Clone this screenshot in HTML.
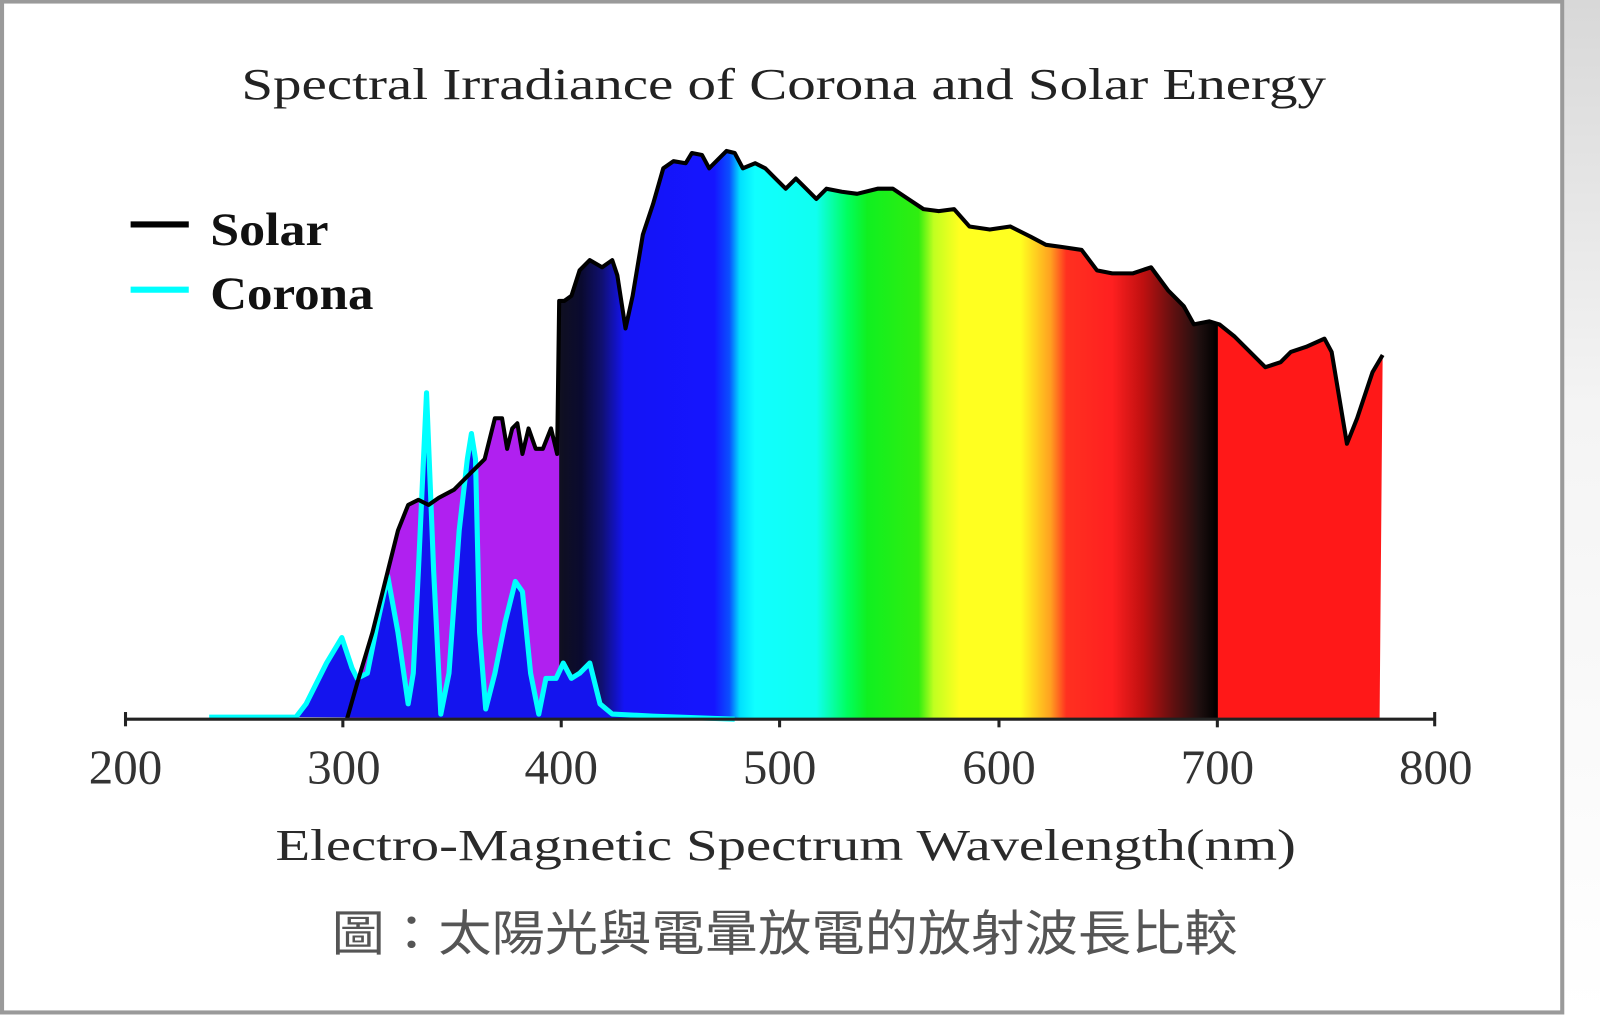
<!DOCTYPE html>
<html><head><meta charset="utf-8"><style>
html,body{margin:0;padding:0;background:#fff;width:1600px;height:1015px;overflow:hidden}
svg{display:block}
</style></head><body>
<svg width="1600" height="1015" viewBox="0 0 1568 995" preserveAspectRatio="none" xmlns="http://www.w3.org/2000/svg">
<defs>
<linearGradient id="spec" gradientUnits="userSpaceOnUse" x1="548" y1="0" x2="1192" y2="0">
<stop offset="0" stop-color="#101020"/>
<stop offset="0.034" stop-color="#0a0a30"/>
<stop offset="0.065" stop-color="#101070"/>
<stop offset="0.099" stop-color="#1414f5"/>
<stop offset="0.236" stop-color="#1515ff"/>
<stop offset="0.259" stop-color="#0a50ff"/>
<stop offset="0.275" stop-color="#00e0ff"/>
<stop offset="0.298" stop-color="#10ffff"/>
<stop offset="0.391" stop-color="#10fff0"/>
<stop offset="0.438" stop-color="#00ff60"/>
<stop offset="0.469" stop-color="#10f020"/>
<stop offset="0.547" stop-color="#30ee10"/>
<stop offset="0.570" stop-color="#c0ff20"/>
<stop offset="0.609" stop-color="#ffff20"/>
<stop offset="0.702" stop-color="#ffff20"/>
<stop offset="0.748" stop-color="#ffa020"/>
<stop offset="0.772" stop-color="#ff3020"/>
<stop offset="0.841" stop-color="#ff2020"/>
<stop offset="0.888" stop-color="#c01010"/>
<stop offset="0.935" stop-color="#601010"/>
<stop offset="0.973" stop-color="#201010"/>
<stop offset="1" stop-color="#000"/>
</linearGradient>
<linearGradient id="side" x1="0" y1="0" x2="0" y2="1">
<stop offset="0" stop-color="#d8d8d8"/><stop offset="0.4" stop-color="#f4f4f4"/><stop offset="1" stop-color="#fff"/>
</linearGradient>
<clipPath id="uv"><rect x="0" y="0" width="550" height="995"/></clipPath>
<clipPath id="vis"><rect x="548" y="0" width="644" height="995"/></clipPath>
<clipPath id="ir"><rect x="1192" y="0" width="400" height="995"/></clipPath>
<path id="solar" d="M340,705 L350,670 365,620 380,560 390,520 400,495 410,490 420,495 430,488 445,480 460,465 475,450 485,410 492,410 497,440 502,420 507,415 512,445 518,420 525,440 532,440 540,420 546,445 548,295 553,295 560,290 568,265 578,255 590,262 600,255 605,270 613,322 620,290 630,230 640,200 650,165 660,158 672,160 678,150 688,152 695,165 705,155 712,148 720,150 728,165 740,160 750,165 760,175 770,185 780,175 790,185 800,195 810,185 825,188 840,190 860,185 875,185 890,195 905,205 920,207 935,205 950,222 970,225 990,222 1010,232 1025,240 1040,242 1060,245 1075,265 1090,268 1110,268 1128,262 1145,285 1160,300 1170,318 1185,315 1195,318 1210,330 1225,345 1240,360 1255,355 1265,345 1280,340 1298,332 1305,345 1320,435 1330,410 1345,365 1355,348 L1352,705 Z"/>
</defs>
<rect x="1533" y="0" width="35" height="995" fill="url(#side)"/>
<rect x="2" y="1.5" width="1529" height="991" fill="#fff" stroke="#9a9a9a" stroke-width="4"/>

<text x="768" y="97" font-family="Liberation Serif, serif" font-size="44" fill="#222" text-anchor="middle" textLength="1063" lengthAdjust="spacingAndGlyphs">Spectral Irradiance of Corona and Solar Energy</text>

<line x1="128" y1="220" x2="185" y2="220" stroke="#000" stroke-width="6"/>
<line x1="128" y1="284" x2="185" y2="284" stroke="#00ffff" stroke-width="6"/>
<text x="206" y="240" font-family="Liberation Serif, serif" font-size="46" font-weight="bold" fill="#111" textLength="116" lengthAdjust="spacingAndGlyphs">Solar</text>
<text x="206" y="303" font-family="Liberation Serif, serif" font-size="46" font-weight="bold" fill="#111" textLength="160" lengthAdjust="spacingAndGlyphs">Corona</text>

<use href="#solar" fill="#b020f0" clip-path="url(#uv)"/>
<use href="#solar" fill="url(#spec)" clip-path="url(#vis)"/>
<use href="#solar" fill="#ff1818" clip-path="url(#ir)"/>

<path d="M290,703 L300,690 320,650 335,625 345,655 350,665 360,660 370,610 380,565 390,620 400,690 405,660 410,560 418,385 425,560 432,700 440,660 450,520 458,450 462,425 466,450 470,620 476,695 485,660 495,610 505,570 512,580 520,660 528,700 535,665 545,665 552,650 560,665 568,660 578,650 588,690 600,700 640,702 720,705 Z" fill="#1414ee"/>
<path d="M205,703 L290,703 300,690 320,650 335,625 345,655 350,665 360,660 370,610 380,565 390,620 400,690 405,660 410,560 418,385 425,560 432,700 440,660 450,520 458,450 462,425 466,450 470,620 476,695 485,660 495,610 505,570 512,580 520,660 528,700 535,665 545,665 552,650 560,665 568,660 578,650 588,690 600,700 640,702 720,705" fill="none" stroke="#00ffff" stroke-width="5" stroke-linejoin="round"/>

<path d="M340,705 L350,670 365,620 380,560 390,520 400,495 410,490 420,495 430,488 445,480 460,465 475,450 485,410 492,410 497,440 502,420 507,415 512,445 518,420 525,440 532,440 540,420 546,445 548,295 553,295 560,290 568,265 578,255 590,262 600,255 605,270 613,322 620,290 630,230 640,200 650,165 660,158 672,160 678,150 688,152 695,165 705,155 712,148 720,150 728,165 740,160 750,165 760,175 770,185 780,175 790,185 800,195 810,185 825,188 840,190 860,185 875,185 890,195 905,205 920,207 935,205 950,222 970,225 990,222 1010,232 1025,240 1040,242 1060,245 1075,265 1090,268 1110,268 1128,262 1145,285 1160,300 1170,318 1185,315 1195,318 1210,330 1225,345 1240,360 1255,355 1265,345 1280,340 1298,332 1305,345 1320,435 1330,410 1345,365 1355,348" fill="none" stroke="#000" stroke-width="4" stroke-linejoin="round"/>
<line x1="1192" y1="318" x2="1192" y2="705" stroke="#000" stroke-width="3"/>

<g stroke="#222" stroke-width="3">
<line x1="122" y1="705" x2="1407" y2="705"/>
<line x1="123" y1="698" x2="123" y2="712"/>
<line x1="336" y1="705" x2="336" y2="713"/>
<line x1="550" y1="705" x2="550" y2="713"/>
<line x1="764" y1="705" x2="764" y2="713"/>
<line x1="979" y1="705" x2="979" y2="713"/>
<line x1="1193" y1="705" x2="1193" y2="713"/>
<line x1="1406" y1="698" x2="1406" y2="712"/>
</g>
<g font-family="Liberation Serif, serif" font-size="48" fill="#333" text-anchor="middle">
<text x="123" y="768">200</text><text x="337" y="768">300</text><text x="550" y="768">400</text>
<text x="764" y="768">500</text><text x="979" y="768">600</text><text x="1193" y="768">700</text><text x="1407" y="768">800</text>
</g>
<text x="770" y="843" font-family="Liberation Serif, serif" font-size="44" fill="#2a2a2a" text-anchor="middle" textLength="1000" lengthAdjust="spacingAndGlyphs">Electro-Magnetic Spectrum Wavelength(nm)</text>
<text x="769" y="932" font-family="Liberation Sans, 'Noto Sans CJK TC', sans-serif" font-size="48" fill="#555" text-anchor="middle" textLength="888" lengthAdjust="spacingAndGlyphs">圖：太陽光與電暈放電的放射波長比較</text>
</svg>
</body></html>
